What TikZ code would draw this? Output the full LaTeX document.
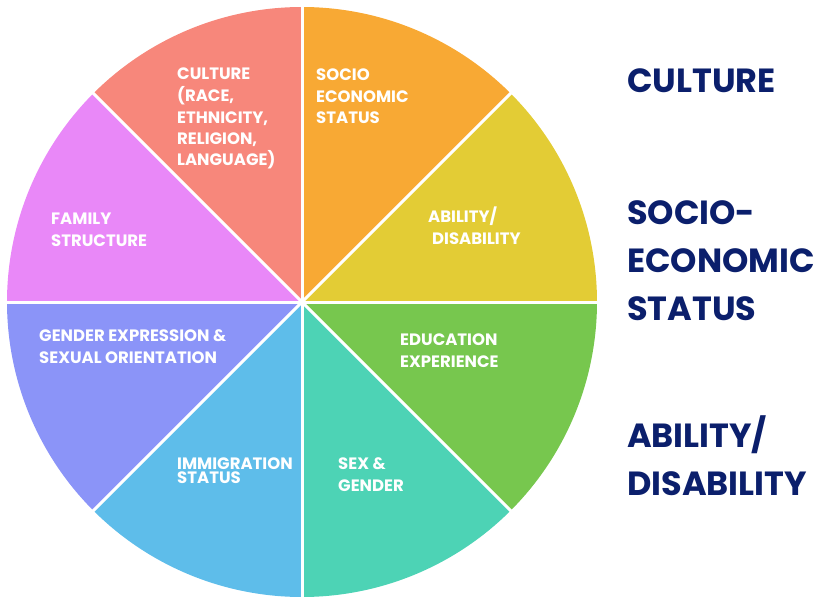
\documentclass[tikz,border=0pt]{standalone}
\usepackage{fontspec}
\setmainfont{Poppins}
\definecolor{cCulture}{HTML}{F7877B}
\definecolor{cSocio}{HTML}{F8A934}
\definecolor{cAbility}{HTML}{E3CC35}
\definecolor{cEducation}{HTML}{77C74E}
\definecolor{cSex}{HTML}{4DD3B5}
\definecolor{cImmig}{HTML}{5EBDEA}
\definecolor{cGender}{HTML}{8B94F8}
\definecolor{cFamily}{HTML}{E988F8}
\definecolor{navy}{HTML}{0B1F6C}
% multi-line nodes are placed by the baseline of their last line
\tikzset{
  wedgelabel/.style={text=white, font=\bfseries\fontsize{16.5}{21.5}\selectfont, align=left, anchor=base west, inner sep=0pt},
  sidelabel/.style={text=navy, font=\bfseries\fontsize{33.5}{48}\selectfont, align=left, anchor=base west, inner sep=0pt}
}
\begin{document}
\begin{tikzpicture}[x=1pt,y=-1pt]
\useasboundingbox (0,0) rectangle (817,599);
\coordinate (c) at (302,302);
\def\R{295}
% wedges of the wheel, clockwise from the top
\fill[cSocio]     (c) -- ++(-90:\R) arc[start angle=-90, end angle=-45, radius=\R] -- cycle;
\fill[cAbility]   (c) -- ++(-45:\R) arc[start angle=-45, end angle=0, radius=\R] -- cycle;
\fill[cEducation] (c) -- ++(0:\R) arc[start angle=0, end angle=45, radius=\R] -- cycle;
\fill[cSex]       (c) -- ++(45:\R) arc[start angle=45, end angle=90, radius=\R] -- cycle;
\fill[cImmig]     (c) -- ++(90:\R) arc[start angle=90, end angle=135, radius=\R] -- cycle;
\fill[cGender]    (c) -- ++(135:\R) arc[start angle=135, end angle=180, radius=\R] -- cycle;
\fill[cFamily]    (c) -- ++(180:\R) arc[start angle=180, end angle=225, radius=\R] -- cycle;
\fill[cCulture]   (c) -- ++(225:\R) arc[start angle=225, end angle=270, radius=\R] -- cycle;
% white dividers
\foreach \a in {0,45,...,315}
  \draw[white, line width=3pt] (c) -- ++(\a:\R+2);
% labels inside the wedges
\node[wedgelabel] (lCulture) at (177,166) {CULTURE\\(RACE,\\ETHNICITY,\\RELIGION,\\LANGUAGE)};
\node[wedgelabel] (lSocio) at (316,124) {SOCIO\\ECONOMIC\\STATUS};
\node[wedgelabel, font=\bfseries\fontsize{16.5}{22}\selectfont] (lAbility) at (428,244) {ABILITY/\\\hspace*{4pt}DISABILITY};
\node[wedgelabel, font=\bfseries\fontsize{16.5}{22}\selectfont] (lEducation) at (400,367) {EDUCATION\\EXPERIENCE};
\node[wedgelabel] (lSex) at (338,491) {SEX \&\\GENDER};
\node[wedgelabel, font=\bfseries\fontsize{16.5}{14}\selectfont] (lImmig) at (177,483) {IMMIGRATION\\STATUS};
\node[wedgelabel] (lGender) at (39,363) {GENDER EXPRESSION \&\\SEXUAL ORIENTATION};
\node[wedgelabel, font=\bfseries\fontsize{16.5}{22}\selectfont] (lFamily) at (51,246) {FAMILY\\STRUCTURE};
% side headings
\node[sidelabel] (sCulture) at (627,93) {CULTURE};
\node[sidelabel] (sSocio) at (627,320) {SOCIO-\\ECONOMIC\\STATUS};
\node[sidelabel] (sAbility) at (627,495) {ABILITY/\\DISABILITY};
\end{tikzpicture}
\end{document}
